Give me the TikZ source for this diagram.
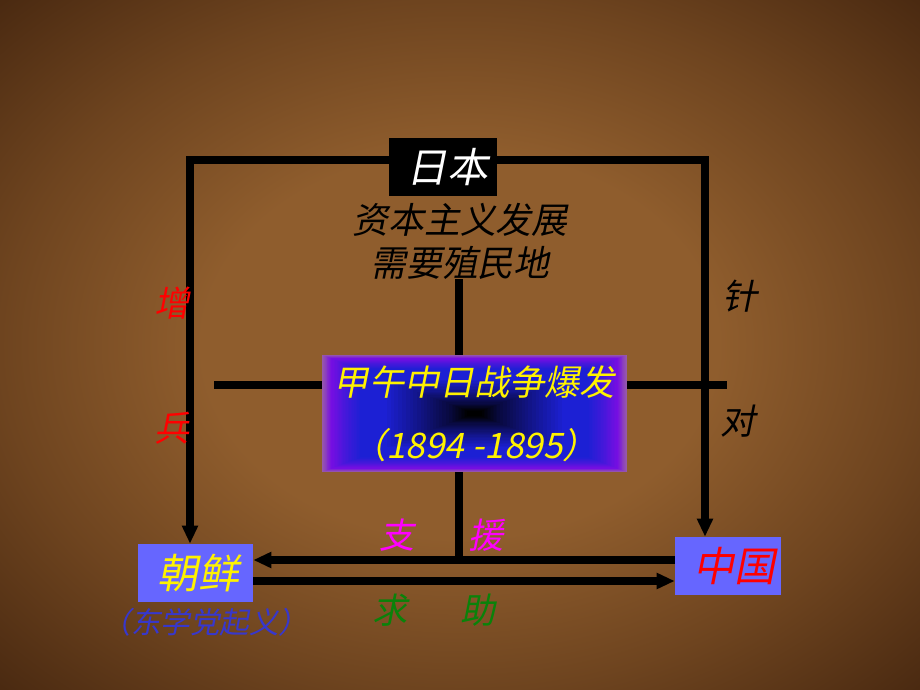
\documentclass[tikz,border=0pt]{standalone}
\usepackage{fontspec}
\usetikzlibrary{arrows.meta,calc}
\newfontfamily\cjk[FakeSlant=0.2]{Noto Sans CJK SC}
\definecolor{bgin}{RGB}{143,93,45}
\definecolor{bgmid}{RGB}{110,68,31}
\definecolor{bgout}{RGB}{72,40,16}
\definecolor{boxblue}{RGB}{102,102,255}
\definecolor{warblue}{RGB}{28,32,212}
\definecolor{warpurple}{RGB}{118,14,226}
\definecolor{warmauve}{RGB}{150,88,172}
\colorlet{warmix}{warpurple!45!warblue}
\colorlet{warnavy}{warblue!60!black}
\colorlet{wardeep}{warblue!25!black}
\definecolor{aidpink}{RGB}{255,0,255}
\definecolor{seekgreen}{RGB}{10,130,10}
\definecolor{uprising}{RGB}{55,55,205}
\pgfdeclareradialshading{bgshading}{\pgfpointorigin}{color(0bp)=(bgin); color(14bp)=(bgin); color(25bp)=(bgmid); color(36bp)=(bgout); color(50bp)=(bgout)}
\tikzstyle{conn} = [line width=5pt,-{Triangle[length=0.45cm,width=0.38cm]}]
\tikzstyle{bar} = [line width=5pt]
\tikzstyle{hanzi} = [font=\cjk\fontsize{25}{30}\selectfont, inner sep=0pt]
\tikzstyle{country} = [fill=boxblue, minimum height=1.45cm, inner sep=0pt, font=\cjk\fontsize{29}{34}\selectfont]
\tikzstyle{warbox} = [fill=warmauve, minimum width=7.625cm, minimum height=2.925cm, inner sep=0pt, text=yellow, align=center, font=\cjk\fontsize{25}{44.8}\selectfont,
  path picture={
    \foreach \ta/\tb/\ca/\cb in {0/0.06/warmauve/warpurple, 0.06/0.15/warpurple/warmix, 0.15/0.25/warmix/warblue, 0.25/0.4/warblue/warblue, 0.4/0.65/warblue/warnavy, 0.65/0.85/warnavy/wardeep, 0.85/0.95/wardeep/black}{
      \foreach \k in {0,...,9}{
        \pgfmathsetmacro\s{1-(\ta+(\tb-\ta)*\k/10)}
        \pgfmathtruncatemacro\p{\k*10}
        \fill[\cb!\p!\ca] ($(path picture bounding box.center)!\s!(path picture bounding box.north west)$) rectangle ($(path picture bounding box.center)!\s!(path picture bounding box.south east)$);
      }
    }
    \fill[black] ($(path picture bounding box.center)!0.05!(path picture bounding box.north west)$) rectangle ($(path picture bounding box.center)!0.05!(path picture bounding box.south east)$);
  }]

\begin{document}
\begin{tikzpicture}[x=0.025cm,y=-0.025cm]
\useasboundingbox (0,0) rectangle (920,690);
\shade[shading=bgshading] (0,0) rectangle (920,690);

\node[fill=black, text=white, minimum width=2.675cm, minimum height=1.45cm, inner sep=0pt, font=\cjk\fontsize{29}{34}\selectfont] (riben) at (443,167) {\hspace{0.2cm}日本};
\node[hanzi, align=center, font=\cjk\fontsize{25.5}{30.6}\selectfont] (reason) at (460,241) {资本主义发展\\需要殖民地};
\node[warbox] (war) at (474.5,413.5) {甲午中日战争爆发\\（1894 -1895）};
\node[country, minimum width=2.875cm, text=yellow] (chaoxian) at (195.5,573) {\hspace{0.15cm}朝鲜};
\node[country, minimum width=2.65cm, text=red] (zhongguo) at (728,566) {\hspace{0.3cm}中国};
\node[hanzi, text=uprising, font=\cjk\fontsize{21}{24}\selectfont] (donxue) at (205,622) {（东学党起义）};

\coordinate (tl) at (190,160);
\coordinate (tr) at (705,160);
\coordinate (hl) at (214,385);
\coordinate (hr) at (727,385);
\coordinate (zy) at (459,560);
\coordinate (qz) at (459,581);

\draw[conn] (riben.west |- tl) -- (tl) -- (tl |- chaoxian.north);
\draw[conn] (riben.east |- tr) -- (tr) -- (tr |- zhongguo.north);
\draw[bar] (reason.south -| zy) -- (war.north -| zy);
\draw[bar] (war.west |- hl) -- (hl);
\draw[bar] (war.east |- hr) -- (hr);
\draw[bar] (war.south -| zy) -- (zy);
\draw[conn] (zhongguo.west |- zy) -- (chaoxian.east |- zy);
\draw[conn] (chaoxian.east |- qz) -- (zhongguo.west |- qz);

\node[hanzi, text=red] (zeng) at (172,303) {增};
\node[hanzi, text=red] (bing) at (172,428) {兵};
\node[hanzi] (zhen) at (740,296) {针};
\node[hanzi] (dui) at (738,421) {对};
\node[hanzi, text=aidpink] (zhi) at (397,535) {支};
\node[hanzi, text=aidpink] (yuan) at (486,535) {援};
\node[hanzi, text=seekgreen] (qiu) at (390,610) {求};
\node[hanzi, text=seekgreen] (zhu) at (478,610) {助};
\end{tikzpicture}
\end{document}
